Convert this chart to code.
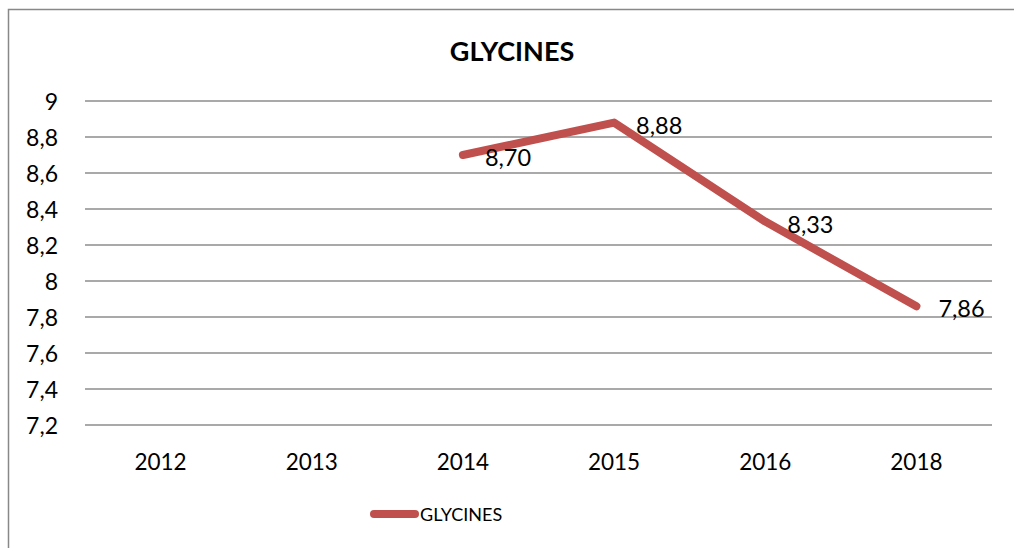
<!DOCTYPE html>
<html>
<head>
<meta charset="utf-8">
<script src="https://cdn.jsdelivr.net/npm/d3@7"></script>
<style>
  body { margin: 0; background: #fff; }
  text { font-family: Lato, "Open Sans", sans-serif; fill: #000; }
</style>
</head>
<body>
<div id="chart"></div>
<script>
const years = ['2012', '2013', '2014', '2015', '2016', '2018']
const values = [null, null, 8.70, 8.88, 8.33, 7.86]
const yTicks = [7.2, 7.4, 7.6, 7.8, 8, 8.2, 8.4, 8.6, 8.8, 9]
const seriesName = 'GLYCINES'

const width = 1014
const height = 548
const margin = { top: 101, left: 85, right: 22, bottom: 123 }

const svg = d3
  .select('#chart')
  .append('svg')
  .attr('width', width)
  .attr('height', height)

// outer frame
svg
  .append('rect')
  .attr('x', 8.5)
  .attr('y', 9.5)
  .attr('width', width + 10)
  .attr('height', height + 10)
  .attr('fill', 'none')
  .attr('stroke', '#888')
  .attr('stroke-width', 1.5)

const x = d3
  .scaleBand()
  .domain(years)
  .range([margin.left, width - margin.right])

const y = d3
  .scaleLinear()
  .domain([7.2, 9])
  .range([height - margin.bottom, margin.top])

const fmt = d => String(d).replace('.', ',')

// gridlines
svg
  .selectAll('.grid')
  .data(yTicks)
  .enter()
  .append('line')
  .attr('class', 'grid')
  .attr('x1', margin.left)
  .attr('x2', width - margin.right)
  .attr('y1', d => y(d))
  .attr('y2', d => y(d))
  .attr('stroke', '#8c8c8c')
  .attr('stroke-width', 1.5)

// y axis labels
svg
  .selectAll('.y-label')
  .data(yTicks)
  .enter()
  .append('text')
  .attr('class', 'y-label')
  .attr('x', 58)
  .attr('y', d => y(d))
  .attr('text-anchor', 'end')
  .attr('dominant-baseline', 'central')
  .attr('font-size', 23)
  .text(fmt)

// x axis labels
svg
  .selectAll('.x-label')
  .data(years)
  .enter()
  .append('text')
  .attr('class', 'x-label')
  .attr('x', d => x(d) + x.bandwidth() / 2)
  .attr('y', 461)
  .attr('text-anchor', 'middle')
  .attr('dominant-baseline', 'central')
  .attr('font-size', 22.5)
  .text(d => d)

// title
svg
  .append('text')
  .attr('x', 512)
  .attr('y', 50)
  .attr('text-anchor', 'middle')
  .attr('dominant-baseline', 'central')
  .attr('font-size', 27)
  .attr('font-weight', 'bold')
  .text(seriesName)

const points = years
  .map((yr, i) => ({ year: yr, value: values[i] }))
  .filter(d => d.value !== null)

const line = d3
  .line()
  .x(d => x(d.year) + x.bandwidth() / 2)
  .y(d => y(d.value))

svg
  .append('path')
  .datum(points)
  .attr('d', line)
  .attr('fill', 'none')
  .attr('stroke', '#c0504d')
  .attr('stroke-width', 8)
  .attr('stroke-linecap', 'round')
  .attr('stroke-linejoin', 'round')

// data labels
svg
  .selectAll('.value-label')
  .data(points)
  .enter()
  .append('text')
  .attr('class', 'value-label')
  .attr('x', d => x(d.year) + x.bandwidth() / 2 + 22)
  .attr('y', d => y(d.value) + 2)
  .attr('dominant-baseline', 'central')
  .attr('font-size', 23.5)
  .text(d => d.value.toFixed(2).replace('.', ','))

// legend
svg
  .append('line')
  .attr('x1', 374)
  .attr('x2', 415)
  .attr('y1', 514)
  .attr('y2', 514)
  .attr('stroke', '#c0504d')
  .attr('stroke-width', 8)
  .attr('stroke-linecap', 'round')

svg
  .append('text')
  .attr('x', 420)
  .attr('y', 514)
  .attr('dominant-baseline', 'central')
  .attr('font-size', 18)
  .text(seriesName)
</script>
</body>
</html>
